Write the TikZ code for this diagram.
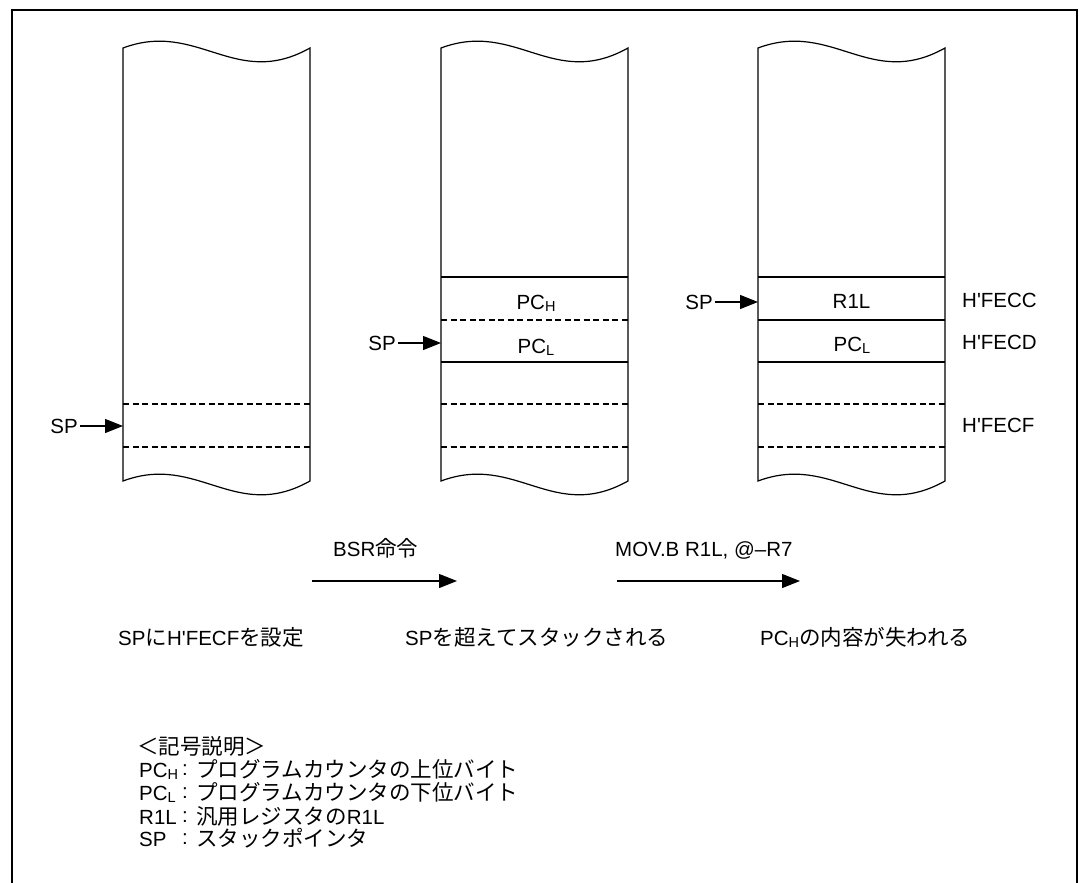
\documentclass[tikz,border=0pt]{standalone}
\usepackage{fontspec}
\setmainfont{Liberation Sans}
\newfontfamily\jp[Scale=1.05]{Noto Sans CJK JP}
\usetikzlibrary{arrows.meta}
\newcommand{\lsub}[1]{\raisebox{-0.11em}[0.5em][0pt]{\fontsize{14.5}{14.5}\selectfont #1}}
\newcommand{\qq}{\textquotesingle}
\begin{document}
\begin{tikzpicture}[x=1pt,y=-1pt,
  every node/.style={inner sep=0pt, font=\fontsize{20.5}{24}\selectfont},
  colline/.style={line width=1.2pt},
  dline/.style={line width=1.1pt, dash pattern=on 6pt off 3.5pt},
  arr/.style={line width=1.1pt, -{Triangle[length=18pt,width=14pt]}},
  txt/.style={anchor=base west},
  ctr/.style={anchor=base},
  splbl/.style={anchor=east, inner xsep=2pt},
]
\useasboundingbox (0,0) rectangle (1079,883);
% frame
\draw[line width=1.3pt] (12,883) -- (12,10) -- (1077,10) -- (1077,883);
% columns
\foreach \x in {123,441,758}{
  \draw[colline] (\x,48) .. controls (\x+74.8,20) and (\x+112.2,90) .. (\x+187,48)
     -- (\x+187,481) .. controls (\x+112.2,523) and (\x+74.8,453) .. (\x,481) -- cycle;
}
% column 1 lines
\draw[dline] (123,404) -- (310,404);
\draw[dline] (123,447) -- (310,447);
% column 2 lines
\draw[colline] (441,277) -- (628,277);
\draw[dline] (441,320) -- (628,320);
\draw[colline] (441,362) -- (628,362);
\draw[dline] (441,404) -- (628,404);
\draw[dline] (441,447) -- (628,447);
% column 3 lines
\draw[colline] (758,277) -- (945,277);
\draw[colline] (758,320) -- (945,320);
\draw[colline] (758,362) -- (945,362);
\draw[dline] (758,404) -- (945,404);
\draw[dline] (758,447) -- (945,447);
% cell texts
\node[ctr] (pch2) at (536,309) {PC\lsub{H}};
\node[ctr] (pcl2) at (536,353) {PC\lsub{L}};
\node[ctr] (r1l3) at (851.5,308) {R1L};
\node[ctr] (pcl3) at (852,351) {PC\lsub{L}};
% address labels
\node[txt] (fecc) at (962,307) {H\qq FECC};
\node[txt] (fecd) at (962,349) {H\qq FECD};
\node[txt] (fecf) at (962,432) {H\qq FECF};
% SP pointers
\node[splbl] (sp1) at (80,426) {SP};
\coordinate (t1) at (123,426);
\draw[arr] (sp1.east) -- (t1);
\node[splbl] (sp2) at (398,343) {SP};
\coordinate (t2) at (441,343);
\draw[arr] (sp2.east) -- (t2);
\node[splbl] (sp3) at (715,302) {SP};
\coordinate (t3) at (758,302);
\draw[arr] (sp3.east) -- (t3);
% transition arrows
\coordinate (b1) at (312,581);
\coordinate (b2) at (457,581);
\draw[arr] (b1) -- (b2);
\coordinate (m1) at (617,581);
\coordinate (m2) at (800,581);
\draw[arr] (m1) -- (m2);
\node[txt] (bsr) at (333,556) {BSR{\jp 命令}};
\node[txt] (mov) at (615,556) {MOV.B R1L, @–R7};
% captions
\node[txt] (cap1) at (118,645) {SP{\jp に}H\qq FECF{\jp を設定}};
\node[txt] (cap2) at (405,645) {SP{\jp を超えてスタックされる}};
\node[txt] (cap3) at (760,645) {PC\lsub{H}{\jp の内容が失われる}};
% legend
\node[txt] (lg0) at (137,754) {{\jp ＜記号説明＞}};
\node[txt] (k1) at (139,777) {PC\lsub{H}};
\node[ctr] (s1) at (185,775) {:};
\node[txt] (d1) at (196,777) {\jp プログラムカウンタの上位バイト};
\node[txt] (k2) at (139,800) {PC\lsub{L}};
\node[ctr] (s2) at (185,798) {:};
\node[txt] (d2) at (196,800) {\jp プログラムカウンタの下位バイト};
\node[txt] (k3) at (139,824.5) {R1L};
\node[ctr] (s3) at (185,822.5) {:};
\node[txt] (d3) at (196,824.5) {{\jp 汎用レジスタの}R1L};
\node[txt] (k4) at (139,846.5) {SP};
\node[ctr] (s4) at (185,844.5) {:};
\node[txt] (d4) at (196,846.5) {\jp スタックポインタ};
\end{tikzpicture}
\end{document}
